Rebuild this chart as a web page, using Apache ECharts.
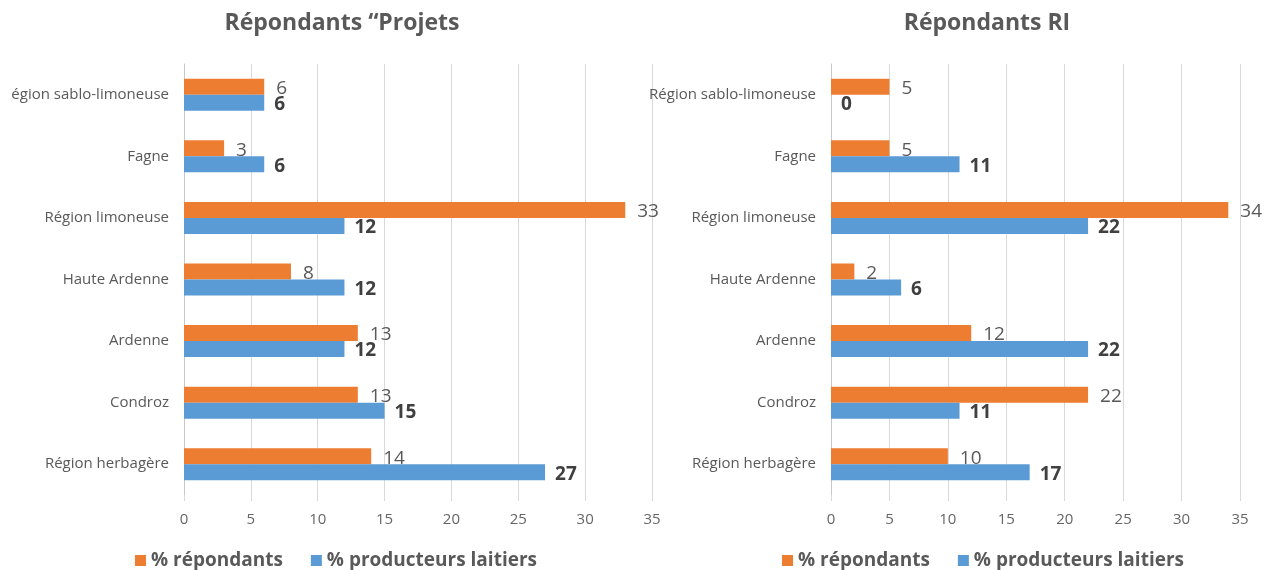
<!DOCTYPE html>
<html>
<head>
<meta charset="utf-8">
<script src="https://cdn.jsdelivr.net/npm/echarts@6/dist/echarts.min.js"></script>
<style>html,body{margin:0;padding:0;background:#fff}#c{width:1274px;height:570px}</style>
</head>
<body>
<div id="c"></div>
<script>
const titleLeft = 'Répondants “Projets';
const titleRight = 'Répondants RI';
const categoriesLeft = ['égion sablo-limoneuse','Fagne','Région limoneuse','Haute Ardenne','Ardenne','Condroz','Région herbagère'];
const categoriesRight = ['Région sablo-limoneuse','Fagne','Région limoneuse','Haute Ardenne','Ardenne','Condroz','Région herbagère'];
const seriesNames = ['% répondants','% producteurs laitiers'];
const leftRepondants = [6,3,33,8,13,13,14];
const leftProducteurs = [6,6,12,12,12,15,27];
const rightRepondants = [5,5,34,2,12,22,10];
const rightProducteurs = [0,11,22,6,22,11,17];
const xTicks = [0,5,10,15,20,25,30,35];

const FONT = '"Open Sans", "Noto Sans", sans-serif';
const ORANGE = '#ED7D31', BLUE = '#5B9BD5', GREY = '#595959';

function xAxis(idx){
  return {
    type:'value', gridIndex:idx, min:xTicks[0], max:xTicks[xTicks.length-1], interval:5,
    axisLine:{show:false},
    axisTick:{show:true, length:6, lineStyle:{color:'#d9d9d9'}},
    splitLine:{show:true, lineStyle:{color:'#d9d9d9', width:1}},
    axisLabel:{color:'#666666', fontFamily:FONT, fontSize:15, margin:17}
  };
}
function yAxis(idx, cats){
  return {
    type:'category', gridIndex:idx, data:cats, inverse:true,
    axisLine:{show:true, lineStyle:{color:'#c8c8c8'}},
    axisTick:{show:false},
    axisLabel:{color:GREY, fontFamily:FONT, fontSize:15, margin:15}
  };
}
function series(name, idx, data, color, bold){
  return {
    type:'bar', name:name, xAxisIndex:idx, yAxisIndex:idx, data:data,
    barWidth:16, barGap:'0%',
    itemStyle:{color:color},
    label:{show:true, position:'right', distance:bold?10:12, offset:[0,2],
      color:bold?'#404040':GREY, fontFamily:FONT,
      fontSize:bold?19:19, fontWeight:bold?'bold':'normal'}
  };
}
function legend(left){
  return {
    left:left, top:546, itemWidth:11, itemHeight:11, itemGap:28,
    icon:'rect', data:seriesNames,
    textStyle:{color:GREY, fontFamily:FONT, fontSize:19, fontWeight:'bold'}
  };
}

const chart = echarts.init(document.getElementById('c'), null, {renderer:'canvas'});
chart.setOption({
  animation:false,
  color:[ORANGE, BLUE],
  title:[
    {text:titleLeft, left:337, top:7, textAlign:'center',
     textStyle:{color:GREY, fontFamily:FONT, fontSize:23, fontWeight:'bold'}},
    {text:titleRight, left:982, top:7, textAlign:'center',
     textStyle:{color:GREY, fontFamily:FONT, fontSize:23, fontWeight:'bold'}}
  ],
  legend:[legend(130), legend(777)],
  grid:[
    {left:184, top:64, width:468, height:431},
    {left:831, top:64, width:409, height:431}
  ],
  xAxis:[xAxis(0), xAxis(1)],
  yAxis:[yAxis(0, categoriesLeft), yAxis(1, categoriesRight)],
  series:[
    series(seriesNames[0], 0, leftRepondants, ORANGE, false),
    series(seriesNames[1], 0, leftProducteurs, BLUE, true),
    series(seriesNames[0], 1, rightRepondants, ORANGE, false),
    series(seriesNames[1], 1, rightProducteurs, BLUE, true)
  ]
});
</script>
</body>
</html>
